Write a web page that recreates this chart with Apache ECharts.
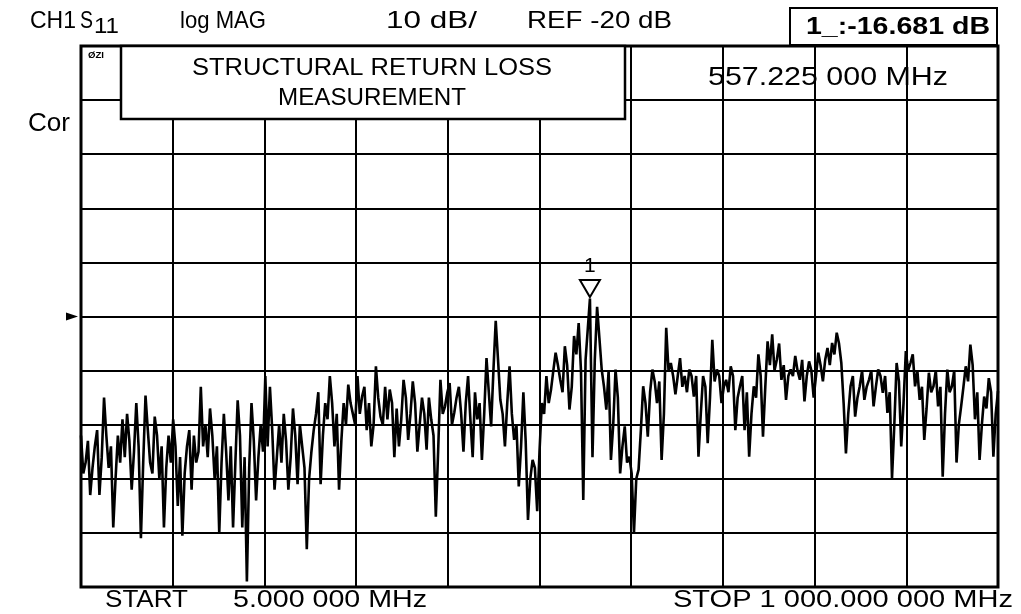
<!DOCTYPE html>
<html><head><meta charset="utf-8">
<script src="https://cdn.jsdelivr.net/npm/echarts@6/dist/echarts.min.js"></script>
<style>html,body{margin:0;padding:0;background:#fff}#c{width:1021px;height:614px}</style>
</head><body><div id="c"></div>
<script>
// Sweep points at 5 MHz steps (MHz)
const freqMHz = [
  5,10,15,20,25,30,35,40,45,50,
  55,60,65,70,75,80,85,90,95,100,
  105,110,115,120,125,130,135,140,145,150,
  155,160,165,170,175,180,185,190,195,200,
  205,210,215,220,225,230,235,240,245,250,
  255,260,265,270,275,280,285,290,295,300,
  305,310,315,320,325,330,335,340,345,350,
  355,360,365,370,375,380,385,390,395,400,
  405,410,415,420,425,430,435,440,445,450,
  455,460,465,470,475,480,485,490,495,500,
  505,510,515,520,525,530,535,540,545,550,
  557.225,560,565,570,575,580,585,590,595,600,
  605,610,615,620,625,630,635,640,645,650,
  655,660,665,670,675,680,685,690,695,700,
  705,710,715,720,725,730,735,740,745,750,
  755,760,765,770,775,780,785,790,795,800,
  805,810,815,820,825,830,835,840,845,850,
  855,860,865,870,875,880,885,890,895,900,
  905,910,915,920,925,930,935,940,945,950,
  955,960,965,970,975,980,985,990,995,1000
];
// S11 log magnitude (dB) at those points
const s11dB = [
  -42,-47,-53,-44,-53,-35,-48,-59,-42,-39,
  -38,-52,-36,-61,-34.6,-47,-38.5,-50,-59,-42,
  -39,-55,-60.5,-44,-52,-47,-33,-40,-37,-50,
  -60,-38,-54,-59,-35.5,-59,-69,-36,-54,-40,
  -31,-33,-52,-40,-38,-52,-37,-51,-44,-63,
  -45,-38,-51,-36,-31,-44,-52,-36,-32.6,-38,
  -31,-34.8,-41,-44,-29.2,-38.5,-33,-33.5,-46,-44,
  -31.7,-42.8,-32,-45,-35,-44.6,-39,-57,-31.7,-36.6,
  -32.3,-37.8,-33,-45,-31,-46,-39,-46.5,-27.7,-40.3,
  -20.8,-35.4,-44,-29.2,-42.8,-51.4,-34,-57.6,-46.5,-56,
  -36,-31,-33.5,-26.7,-31.7,-25.5,-37.2,-23.6,-21.2,-53.9,
  -16.681,-46,-18.2,-29.8,-37.2,-46.5,-29.8,-49,-40.3,-45.9,
  -60,-48.3,-32.9,-42.2,-29.8,-36,-46.5,-22.1,-28.6,-34.4,
  -27.7,-31,-29.8,-34.8,-45.9,-31,-43.4,-24.3,-29.8,-36,
  -31.7,-29.2,-41,-32.9,-41,-45.9,-32.9,-27,-42.2,-24.6,
  -23.3,-28,-31.7,-35.4,-29.8,-27.3,-31.7,-35.7,-28.3,-35,
  -26.7,-32,-25.8,-24.9,-23,-28.6,-45.3,-32.9,-38.5,-32.9,
  -35.4,-31.7,-36.6,-29.8,-34.1,-37.8,-49.9,-28.6,-44,-26.4,
  -28.6,-32.9,-35.4,-42.8,-30.4,-32.9,-36.6,-49.6,-29.8,-32.9,
  -47,-36.6,-29.2,-25.2,-39,-46.5,-34.8,-31.4,-45.9,-33.8
];
// In-between sweep points (MHz)
const midFreqMHz = [
  7.5,12.5,17.5,22.5,27.5,32.5,37.5,42.5,47.5,52.5,
  57.5,62.5,67.5,72.5,77.5,82.5,87.5,92.5,97.5,102.5,
  107.5,112.5,117.5,122.5,127.5,132.5,137.5,142.5,147.5,152.5,
  157.5,162.5,167.5,172.5,177.5,182.5,187.5,192.5,197.5,202.5,
  207.5,212.5,217.5,222.5,227.5,232.5,237.5,242.5,247.5,252.5,
  257.5,262.5,267.5,272.5,277.5,282.5,287.5,292.5,297.5,302.5,
  307.5,312.5,317.5,322.5,327.5,332.5,337.5,342.5,347.5,352.5,
  357.5,362.5,367.5,372.5,377.5,382.5,387.5,392.5,397.5,402.5,
  407.5,412.5,417.5,422.5,427.5,432.5,437.5,442.5,447.5,452.5,
  457.5,462.5,467.5,472.5,477.5,482.5,487.5,492.5,497.5,502.5,
  507.5,512.5,517.5,522.5,527.5,532.5,537.5,542.5,547.5,552.5,
  562.5,567.5,572.5,577.5,582.5,587.5,592.5,597.5,602.5,
  607.5,612.5,617.5,622.5,627.5,632.5,637.5,642.5,647.5,652.5,
  657.5,662.5,667.5,672.5,677.5,682.5,687.5,692.5,697.5,702.5,
  707.5,712.5,717.5,722.5,727.5,732.5,737.5,742.5,747.5,752.5,
  757.5,762.5,767.5,772.5,777.5,782.5,787.5,792.5,797.5,802.5,
  807.5,812.5,817.5,822.5,827.5,832.5,837.5,842.5,847.5,852.5,
  857.5,862.5,867.5,872.5,877.5,882.5,887.5,892.5,897.5,902.5,
  907.5,912.5,917.5,922.5,927.5,932.5,937.5,942.5,947.5,952.5,
  957.5,962.5,967.5,972.5,977.5,982.5,987.5,992.5,997.5
];
const midS11dB = [
  -49,-43,-48,-41,-46,-42,-44,-50,-47,-46,
  -43,-45,-44,-47,-41,-49,-42,-44,-48,-47,
  -44,-46,-49,-41,-42,-45,-44,-46,-42,-44,
  -47,-45,-44,-47,-42,-46,-48,-43,-46,-45,
  -44,-41,-46,-47,-43,-46,-42,-40,-48,-50,
  -41,-34,-42,-39,-36,-38,-43,-40,-36,-40,
  -38,-33,-36,-40,-35,-40,-39,-36,-37,-39,
  -35,-38,-36,-40,-38,-35,-42,-45,-38,-34,
  -40,-35,-38,-36,-39,-34,-36,-38,-34,-30,
  -28,-38,-36,-38,-40,-44,-43,-50,-48,-45,
  -38,-36,-30,-29,-34,-29,-33,-27,-30,-28,
  -28,-24,-33,-30,-40,-35,-44,-47,-49,
  -50,-41,-36,-34,-32,-32,-38,-30,-31,-31,
  -33,-34,-31,-31,-38,-33,-35,-32,-31,-33,
  -34,-31,-35,-31,-34,-38,-35,-31,-33,-29,
  -30,-25,-29,-31,-31,-30,-28,-31,-30,-31,
  -29,-28,-29,-27,-25,-36,-38,-31,-35,-30,
  -33,-30,-33,-31,-31,-34,-40,-32,-36,-30,
  -27,-30,-33,-37,-34,-30,-33,-38,-34,-30,
  -40,-33,-32,-29,-34,-40,-37,-34,-38
];
const startMHz = 5, stopMHz = 1000;
const refDb = -20, scaleDbPerDiv = 10;
const yMin = -70, yMax = 30;
const markerFreq = 557.225, markerDb = -16.681;
const markerLabel = '1';

const tracePts = freqMHz.map((f, i) => [f, s11dB[i]])
  .concat(midFreqMHz.map((f, i) => [f, midS11dB[i]]))
  .sort((a, b) => a[0] - b[0]);

const ctx = document.createElement('canvas').getContext('2d');
const FAM = '"Liberation Sans", Arial, Helvetica, sans-serif';
function txt(s, x, y, size, w, bold) {
  ctx.font = (bold ? 'bold ' : '') + size + 'px ' + FAM;
  const m = ctx.measureText(s).width;
  const sx = w ? w / m : 1;
  return {type: 'text', x: x, y: y, scaleX: sx, z: 120,
    style: {text: s, fill: '#000', fontSize: size, fontFamily: FAM,
      fontWeight: bold ? 'bold' : 'normal',
      align: 'left', verticalAlign: 'middle', textAlign: 'left', textVerticalAlign: 'middle'}};
}
function box(x, y, w, h, lw) {
  return {type: 'rect', z: 100, shape: {x: x, y: y, width: w, height: h},
    style: {fill: '#fff', stroke: '#000', lineWidth: lw}};
}

const chart = echarts.init(document.getElementById('c'), null, {renderer: 'canvas'});
chart.setOption({
  animation: false,
  backgroundColor: '#fff',
  grid: {left: 81, right: 23, top: 46, bottom: 27, show: true, borderColor: '#000', borderWidth: 3, backgroundColor: 'transparent'},
  xAxis: [
    {type: 'value', min: startMHz, max: stopMHz, show: false},
    {type: 'value', min: 0, max: 10, interval: 1, position: 'top',
      axisLine: {show: false}, axisTick: {show: false}, axisLabel: {show: false},
      splitLine: {show: true, lineStyle: {color: '#000', width: 2}}}
  ],
  yAxis: {type: 'value', min: yMin, max: yMax, interval: scaleDbPerDiv,
    axisLine: {show: false}, axisTick: {show: false}, axisLabel: {show: false},
    splitLine: {show: true, lineStyle: {color: '#000', width: 2}}},
  series: [{
    type: 'line', xAxisIndex: 0, data: tracePts,
    symbol: 'none', lineStyle: {color: '#000', width: 2.6}, z: 5,
    markPoint: {
      silent: true,
      data: [
        {coord: [markerFreq, markerDb], symbol: 'triangle', symbolRotate: 180, symbolSize: [20, 17], symbolOffset: [0, -10],
          itemStyle: {color: '#fff', borderColor: '#000', borderWidth: 2},
          label: {show: true, formatter: markerLabel, position: 'top', distance: 2, color: '#000', fontSize: 21, fontFamily: FAM}},
        {coord: [startMHz, refDb], symbol: 'triangle', symbolRotate: -90, symbolSize: [8, 12], symbolOffset: [-9, 0],
          itemStyle: {color: '#000'}, label: {show: false}}
      ]
    }
  }],
  graphic: [
    txt('CH1', 30, 21, 24, 46),
    txt('S', 80, 21, 24, 13),
    txt('11', 94, 27, 22, 25),
    txt('log MAG', 180, 21, 24, 86),
    txt('10 dB/', 386, 21, 24, 91),
    txt('REF -20 dB', 527, 21, 24, 145),
    box(790, 8, 207, 37, 2),
    txt('1_:-16.681 dB', 806, 27, 24, 184, true),
    box(121, 46, 504, 73, 2.5),
    txt('STRUCTURAL RETURN LOSS', 192, 68, 24, 360),
    txt('MEASUREMENT', 278, 98, 24, 188),
    txt('557.225 000 MHz', 708, 78, 25, 240),
    txt('Cor', 28, 124, 25, 42),
    txt('ØZI', 88, 56, 9, 16, true),
    txt('START', 105, 600, 24, 83),
    txt('5.000 000 MHz', 233, 600, 24, 194),
    txt('STOP 1 000.000 000 MHz', 673, 600, 24, 340)
  ]
});
</script>
</body></html>
